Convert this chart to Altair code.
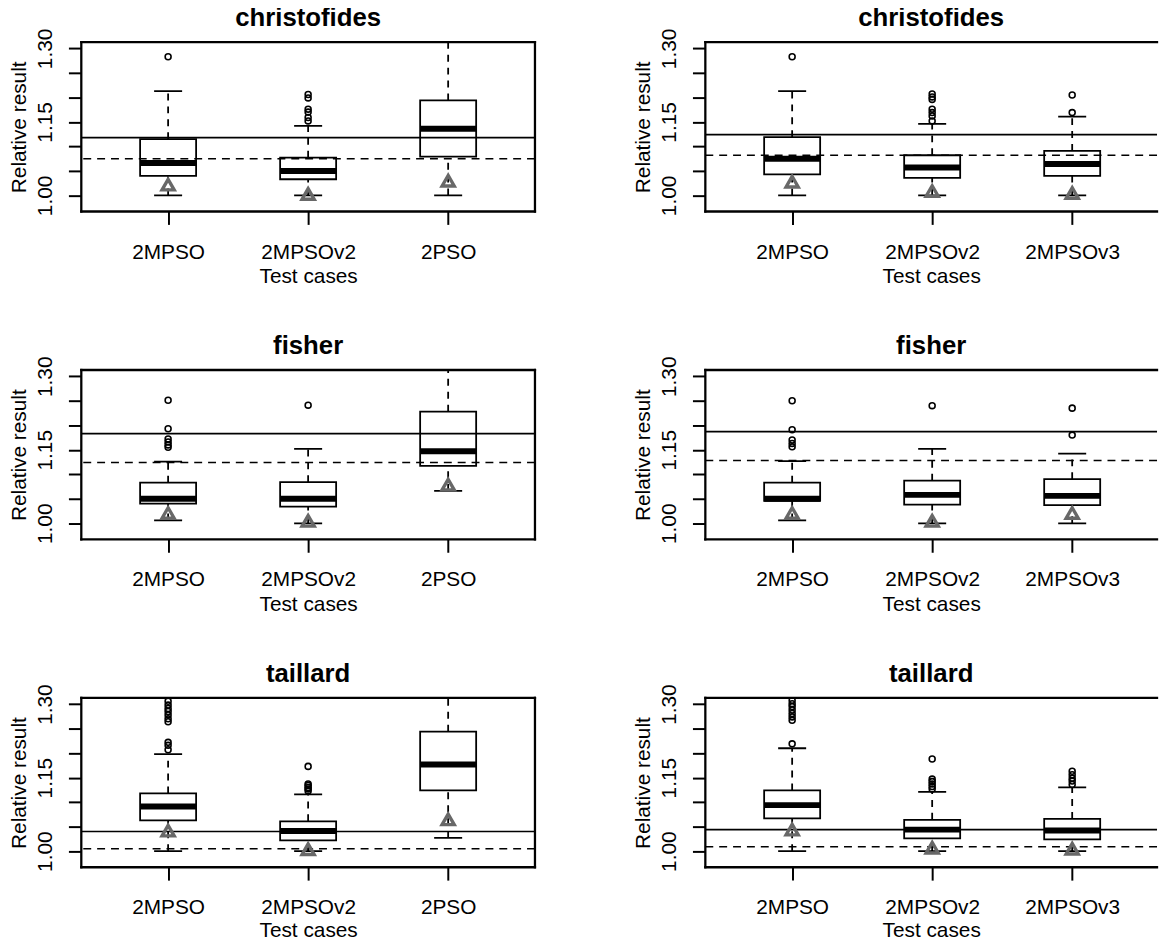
import altair as alt
import pandas as pd

FONT = "Liberation Sans"

CATS_LEFT = ["2MPSO", "2MPSOv2", "2PSO"]
CATS_RIGHT = ["2MPSO", "2MPSOv2", "2MPSOv3"]
TITLES = ["christofides", "fisher", "taillard"]
Y_TICKS = [1.00, 1.05, 1.10, 1.15, 1.20, 1.25, 1.30]
Y_LABELED = [1.00, 1.15, 1.30]
Y_DOMAIN = [0.9672, 1.3128]

# ---- christofides, left ----
CL_low = [1.000, 1.000, 1.000]
CL_q1 = [1.040, 1.033, 1.079]
CL_med = [1.066, 1.050, 1.136]
CL_q3 = [1.115, 1.077, 1.194]
CL_up = [1.213, 1.142, 1.360]
CL_tri = [1.022, 1.003, 1.030]
CL_out = [[1.283], [1.206, 1.199, 1.176, 1.170, 1.159, 1.152], []]
CL_lines = [1.118, 1.075]

# ---- christofides, right ----
CR_low = [1.000, 1.000, 1.000]
CR_q1 = [1.043, 1.036, 1.040]
CR_med = [1.075, 1.057, 1.064]
CR_q3 = [1.119, 1.082, 1.091]
CR_up = [1.213, 1.146, 1.161]
CR_tri = [1.028, 1.009, 1.005]
CR_out = [[1.283], [1.207, 1.201, 1.196, 1.176, 1.169, 1.162, 1.152], [1.205, 1.169]]
CR_lines = [1.124, 1.082]

# ---- fisher, left ----
FL_low = [1.006, 1.000, 1.066]
FL_q1 = [1.040, 1.034, 1.117]
FL_med = [1.050, 1.050, 1.147]
FL_q3 = [1.083, 1.084, 1.228]
FL_up = [1.126, 1.152, 1.360]
FL_tri = [1.021, 1.005, 1.079]
FL_out = [[1.251, 1.193, 1.172, 1.166, 1.160, 1.155], [1.241], []]
FL_lines = [1.183, 1.124]

# ---- fisher, right ----
FR_low = [1.006, 1.000, 1.000]
FR_q1 = [1.046, 1.038, 1.037]
FR_med = [1.050, 1.058, 1.056]
FR_q3 = [1.083, 1.087, 1.090]
FR_up = [1.127, 1.152, 1.142]
FR_tri = [1.021, 1.005, 1.021]
FR_out = [[1.250, 1.191, 1.170, 1.163, 1.156], [1.240], [1.235, 1.180]]
FR_lines = [1.187, 1.128]

# ---- taillard, left ----
TL_low = [1.000, 1.000, 1.027]
TL_q1 = [1.063, 1.022, 1.124]
TL_med = [1.091, 1.041, 1.177]
TL_q3 = [1.118, 1.061, 1.244]
TL_up = [1.198, 1.116, 1.360]
TL_tri = [1.042, 1.004, 1.065]
TL_out = [[1.306, 1.298, 1.291, 1.285, 1.278, 1.270, 1.264, 1.222, 1.216, 1.207],
          [1.173, 1.137, 1.134, 1.130, 1.127, 1.123], []]
TL_lines = [1.040, 1.005]

# ---- taillard, right ----
TR_low = [1.000, 1.000, 1.000]
TR_q1 = [1.067, 1.026, 1.024]
TR_med = [1.094, 1.044, 1.042]
TR_q3 = [1.124, 1.064, 1.066]
TR_up = [1.210, 1.121, 1.130]
TR_tri = [1.044, 1.007, 1.005]
TR_out = [[1.308, 1.301, 1.295, 1.288, 1.281, 1.274, 1.267, 1.219],
          [1.188, 1.147, 1.142, 1.137, 1.132, 1.127],
          [1.163, 1.156, 1.149, 1.143, 1.136]]
TR_lines = [1.044, 1.009]

H = 171
W_LEFT = 458
W_RIGHT = 456
UNIT = W_LEFT / 3.24
TRI_COLOR = "#686868"


def panel(cats, low, q1, med, q3, up, tri, outs, lines, title, width, right_border, title_y):
    n = len(cats)
    xmax = 0.38 + width / UNIT
    xs = alt.Scale(domain=[0.38, xmax], nice=False, zero=False)
    ys = alt.Scale(domain=Y_DOMAIN, nice=False, zero=False)
    box = pd.DataFrame({"pos": list(range(1, n + 1)), "low": low, "q1": q1,
                        "med": med, "q3": q3, "up": up, "tri": tri})
    out = pd.DataFrame({"pos": [i + 1 for i, o in enumerate(outs) for _ in o],
                        "val": [v for o in outs for v in o]})
    solid = pd.DataFrame({"val": [lines[0]]})
    dashed = pd.DataFrame({"val": [lines[1]]})

    cat_list = "[" + ",".join("'" + c + "'" for c in cats) + "]"
    lab_cond = " || ".join("abs(datum.value-%s)<0.001" % v for v in Y_LABELED)
    xaxis = alt.Axis(values=list(range(1, n + 1)), labelExpr=cat_list + "[round(datum.value)-1]",
                     title="Test cases", labelAlign="center", labelBaseline="top",
                     labelPadding=17, titleX=width / 2, titleY=title_y, titleAlign="center",
                     titleBaseline="alphabetic", labelOverlap=False, labelFlush=False)
    yaxis = alt.Axis(values=Y_TICKS, labelExpr="(" + lab_cond + ") ? format(datum.value, '.2f') : ''",
                     title="Relative result", labelAngle=270, labelAlign="center",
                     labelBaseline="alphabetic", labelPadding=17, titleAngle=270,
                     titleAlign="center", titleBaseline="alphabetic", titleX=-56.7,
                     titleY=H / 2, labelOverlap=False, labelFlush=False)

    def X(f):
        return alt.X(f, type="quantitative", scale=xs, axis=xaxis)

    def Y(f):
        return alt.Y(f, type="quantitative", scale=ys, axis=yaxis)

    base = alt.Chart(box).transform_calculate(
        xl="datum.pos - 0.2", xr="datum.pos + 0.2",
        cl="datum.pos - 0.1", cr="datum.pos + 0.1")

    rect = base.mark_rect(fill="white", stroke="black", strokeWidth=1.8).encode(
        x=X("xl"), x2="xr:Q", y=Y("q1"), y2="q3:Q")
    w_up = base.mark_rule(color="black", strokeWidth=1.8, strokeDash=[7, 6], clip=True).encode(
        x=X("pos"), y=Y("q3"), y2="up:Q")
    w_lo = base.mark_rule(color="black", strokeWidth=1.8, strokeDash=[7, 6], clip=True).encode(
        x=X("pos"), y=Y("low"), y2="q1:Q")
    c_up = base.mark_rule(color="black", strokeWidth=1.8, clip=True).encode(
        x=X("cl"), x2="cr:Q", y=Y("up"))
    c_lo = base.mark_rule(color="black", strokeWidth=1.8, clip=True).encode(
        x=X("cl"), x2="cr:Q", y=Y("low"))
    medl = base.mark_rule(color="black", strokeWidth=6, strokeCap="butt").encode(
        x=X("xl"), x2="xr:Q", y=Y("med"))
    pts = alt.Chart(out).mark_point(shape="circle", filled=False, size=36, strokeWidth=1.6,
                                    color="black", opacity=1, clip=True).encode(
        x=X("pos"), y=Y("val"))
    hs = alt.Chart(solid).mark_rule(color="black", strokeWidth=1.6).encode(y=Y("val"))
    hd = alt.Chart(dashed).mark_rule(color="black", strokeWidth=1.6, strokeDash=[8, 6]).encode(
        y=Y("val"))
    tris = base.mark_point(shape="triangle-up", filled=False, size=150, strokeWidth=3.4,
                           color=TRI_COLOR, opacity=1).encode(x=X("pos"), y=Y("tri"))

    one = alt.Data(values=[{"k": 0}])
    bw = 2.3
    borders = [
        alt.Chart(one).mark_rule(color="black", strokeWidth=bw, strokeCap="square").encode(
            x=alt.value(0), x2=alt.value(width), y=alt.value(0)),
        alt.Chart(one).mark_rule(color="black", strokeWidth=bw, strokeCap="square").encode(
            x=alt.value(0), x2=alt.value(width), y=alt.value(H)),
        alt.Chart(one).mark_rule(color="black", strokeWidth=bw, strokeCap="square").encode(
            x=alt.value(0), y=alt.value(0), y2=alt.value(H)),
    ]
    if right_border:
        borders.append(
            alt.Chart(one).mark_rule(color="black", strokeWidth=bw, strokeCap="square").encode(
                x=alt.value(width), y=alt.value(0), y2=alt.value(H)))

    return alt.layer(rect, w_up, w_lo, c_up, c_lo, medl, pts, hs, hd, tris, *borders).properties(
        width=width, height=H,
        title=alt.TitleParams(text=title, fontSize=26, fontWeight="bold", font=FONT,
                              color="black", frame="group", anchor="middle",
                              baseline="alphabetic", offset=-24))


left_sets = [(CL_low, CL_q1, CL_med, CL_q3, CL_up, CL_tri, CL_out, CL_lines),
             (FL_low, FL_q1, FL_med, FL_q3, FL_up, FL_tri, FL_out, FL_lines),
             (TL_low, TL_q1, TL_med, TL_q3, TL_up, TL_tri, TL_out, TL_lines)]
right_sets = [(CR_low, CR_q1, CR_med, CR_q3, CR_up, CR_tri, CR_out, CR_lines),
              (FR_low, FR_q1, FR_med, FR_q3, FR_up, FR_tri, FR_out, FR_lines),
              (TR_low, TR_q1, TR_med, TR_q3, TR_up, TR_tri, TR_out, TR_lines)]
title_ys = [72, 72, 70]
panels = []
for t, ls, rs, ty in zip(TITLES, left_sets, right_sets, title_ys):
    panels.append(panel(CATS_LEFT, *ls, t, W_LEFT, True, ty))
    panels.append(panel(CATS_RIGHT, *rs, t, W_RIGHT, False, ty))

chart = alt.concat(*panels, columns=2, spacing={"row": 160, "column": 172},
                   bounds="flush").properties(
    padding={"left": 0, "top": -8, "right": 0, "bottom": -4},
    background="white"
).configure_view(strokeWidth=0).configure_axis(
    domain=False, grid=False, ticks=True, tickColor="black", tickWidth=2, tickSize=13,
    labelFont=FONT, labelFontSize=21, labelColor="black",
    titleFont=FONT, titleFontSize=21, titleFontWeight="normal", titleColor="black")

chart.save("out.html", embed_options={"renderer": "svg", "actions": False})
